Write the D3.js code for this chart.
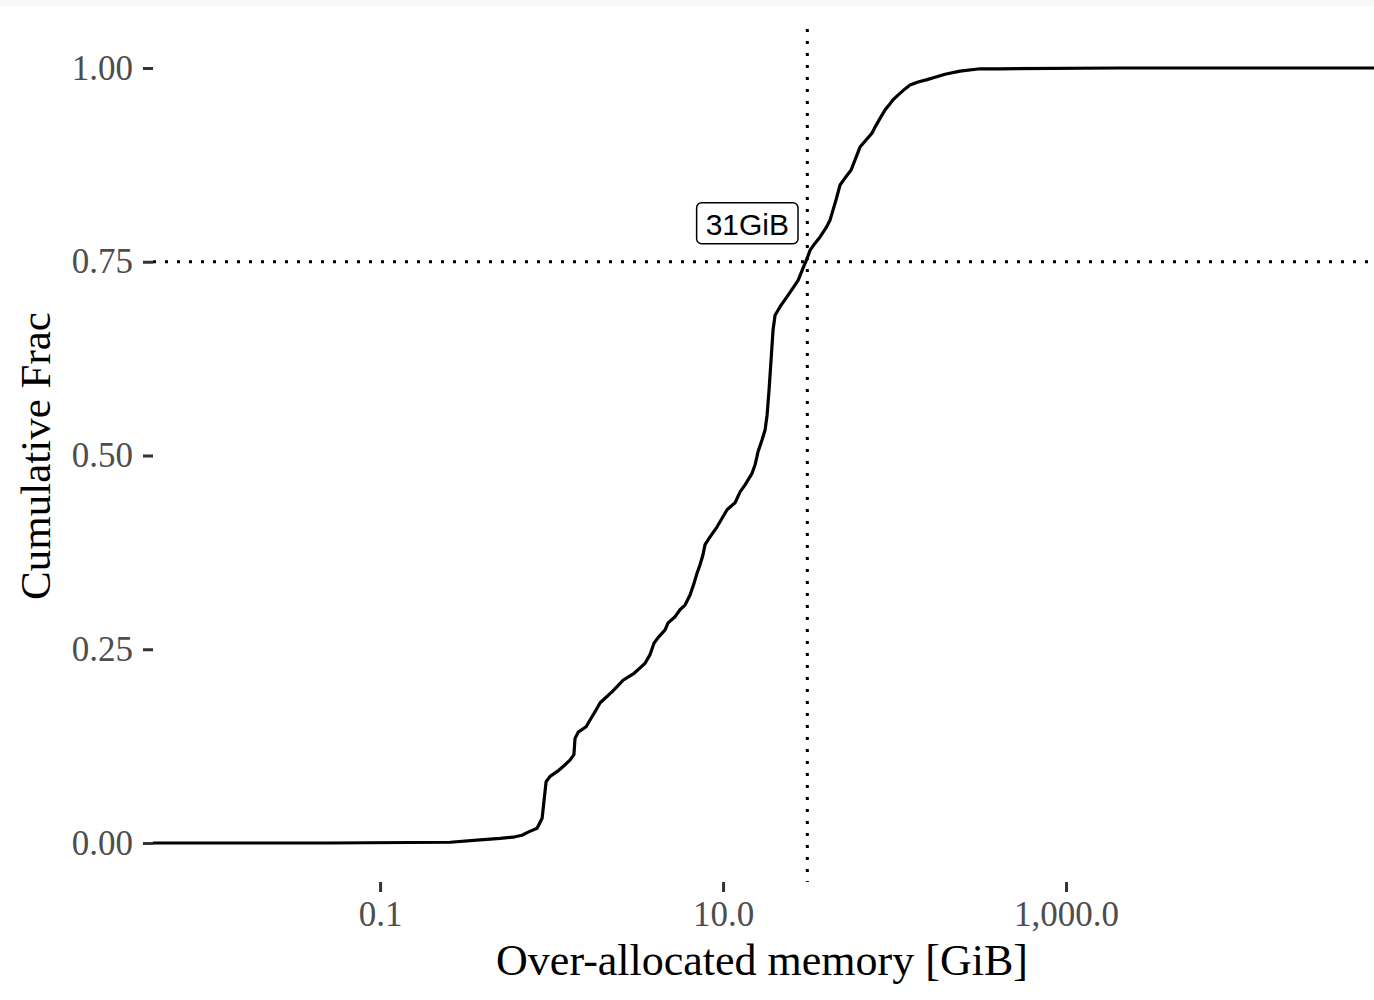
<!DOCTYPE html>
<html>
<head>
<meta charset="utf-8">
<script src="https://cdn.jsdelivr.net/npm/d3@7"></script>
<style>
  body { margin: 0; background: #fff; }
  svg { display: block; }
</style>
</head>
<body>
<div id="chart"></div>
<script>
// ECDF of over-allocated memory
var memGiB = [0.05, 0.256, 0.383, 0.501, 0.612, 0.673, 0.730, 0.823, 0.881, 0.904, 0.929, 0.980,
  1.09, 1.20, 1.28, 1.35, 1.37, 1.43, 1.59, 1.68, 1.82, 1.92, 2.08, 2.25, 2.44, 2.61, 2.79,
  3.03, 3.28, 3.51, 3.75, 3.96, 4.18, 4.59, 4.78, 5.25, 5.61, 6.00, 6.42, 6.77, 7.05, 7.34,
  7.64, 7.85, 8.40, 9.23, 9.87, 10.55, 11.75, 12.57, 13.43, 14.76, 15.37, 16.0, 16.87, 17.58,
  18.06, 18.55, 19.05, 19.57, 20.10, 21.5, 23.3, 25.2, 27.4, 29.3, 30.5, 32.2, 34.4, 36.8,
  39.9, 42.1, 43.8, 45.6, 48.1, 51.4, 55.7, 60.4, 62.9, 68.2, 73.9, 78.0, 82.3, 88.1, 94.2,
  98.0, 104.8, 115.1, 123.1, 137.1, 154.8, 172.2, 196.9, 241.0, 315.2, 412, 2000];
var cumFrac = [0, 0.001, 0.004, 0.006, 0.008, 0.010, 0.014, 0.019, 0.032, 0.055, 0.079, 0.086,
  0.093, 0.101, 0.107, 0.114, 0.135, 0.143, 0.150, 0.159, 0.172, 0.181, 0.188, 0.195, 0.203, 0.210, 0.214,
  0.219, 0.226, 0.232, 0.243, 0.258, 0.265, 0.275, 0.284, 0.292, 0.301, 0.307, 0.320, 0.335, 0.348, 0.359,
  0.372, 0.385, 0.395, 0.408, 0.419, 0.430, 0.439, 0.453, 0.462, 0.477, 0.488, 0.505, 0.520, 0.533,
  0.552, 0.585, 0.623, 0.662, 0.681, 0.692, 0.703, 0.714, 0.726, 0.742, 0.751, 0.765, 0.774, 0.782,
  0.794, 0.804, 0.817, 0.830, 0.849, 0.858, 0.868, 0.888, 0.898, 0.907, 0.916, 0.926, 0.935, 0.946, 0.954,
  0.959, 0.965, 0.973, 0.978, 0.982, 0.985, 0.988, 0.992, 0.996, 0.999, 0.999, 1.0];

var xTicks = [0.1, 10, 1000];
var yTicks = [0, 0.25, 0.5, 0.75, 1];
var quantileFrac = 0.75;
var quantileGiB = 31;
var quantileLabel = "31GiB";
var xDomain = [0.00474, 62500];

var width = 1374, height = 1000;
var serif = "'Liberation Serif', 'Times New Roman', serif";

var svg = d3.select("#chart").append("svg")
    .attr("width", width)
    .attr("height", height);

// faint strip at the very top
svg.append("rect")
    .attr("width", width).attr("height", 6)
    .attr("fill", "#f7f8fa");

var x = d3.scaleLog().domain(xDomain).range([153, 1374]);
var y = d3.scaleLinear().domain([0, 1]).range([843, 68]);
var panelTop = 29, panelBottom = 882;

// axes
var yAxis = d3.axisLeft(y)
    .tickValues(yTicks)
    .tickFormat(d3.format(".2f"))
    .tickSize(10)
    .tickPadding(10);

var xAxis = d3.axisBottom(x)
    .tickValues(xTicks)
    .tickFormat(d3.format(",.1f"))
    .tickSize(10)
    .tickPadding(9);

var gy = svg.append("g")
    .attr("transform", "translate(153,0)")
    .call(yAxis);

var gx = svg.append("g")
    .attr("transform", "translate(0," + panelBottom + ")")
    .call(xAxis);

[gx, gy].forEach(function(g) {
  g.select(".domain").remove();
  g.selectAll(".tick line").attr("stroke", "#333").attr("stroke-width", 3);
  g.selectAll(".tick text")
      .attr("fill", "#4d4d4d")
      .style("font-family", serif)
      .style("font-size", "35px");
});

// reference lines
svg.append("line")
    .attr("x1", x(xDomain[0])).attr("x2", x(xDomain[1]))
    .attr("y1", y(quantileFrac)).attr("y2", y(quantileFrac))
    .attr("stroke", "#000")
    .attr("stroke-width", 3)
    .attr("stroke-dasharray", "3,9");

svg.append("line")
    .attr("x1", x(quantileGiB)).attr("x2", x(quantileGiB))
    .attr("y1", panelTop).attr("y2", panelBottom)
    .attr("stroke", "#000")
    .attr("stroke-width", 3)
    .attr("stroke-dasharray", "3,9");

// ecdf curve, padded to the panel edges
var pts = memGiB.map(function(v, i) { return [v, cumFrac[i]]; });
pts.unshift([xDomain[0], 0]);
pts.push([xDomain[1], 1]);

var line = d3.line()
    .x(function(d) { return x(d[0]); })
    .y(function(d) { return y(d[1]); });

svg.append("path")
    .datum(pts)
    .attr("d", line)
    .attr("fill", "none")
    .attr("stroke", "#000")
    .attr("stroke-width", 3.2)
    .attr("stroke-linejoin", "round");

// label
var lab = svg.append("g");
var labText = lab.append("text")
    .attr("x", x(quantileGiB) - 60)
    .attr("y", y(quantileFrac) - 27)
    .attr("text-anchor", "middle")
    .style("font-family", "'Liberation Sans', Arial, sans-serif")
    .style("font-size", "30px")
    .attr("fill", "#000")
    .text(quantileLabel);
var bb = labText.node().getBBox();
lab.insert("rect", "text")
    .attr("x", bb.x - 9)
    .attr("y", y(quantileFrac) - 59)
    .attr("width", bb.width + 18)
    .attr("height", 41)
    .attr("rx", 5)
    .attr("fill", "#fff")
    .attr("stroke", "#000")
    .attr("stroke-width", 1.5);

// axis titles
svg.append("text")
    .attr("x", 762)
    .attr("y", 975)
    .attr("text-anchor", "middle")
    .style("font-family", serif)
    .style("font-size", "44px")
    .attr("fill", "#000")
    .text("Over-allocated memory [GiB]");

svg.append("text")
    .attr("transform", "translate(50,456) rotate(-90)")
    .attr("text-anchor", "middle")
    .style("font-family", serif)
    .style("font-size", "43px")
    .attr("fill", "#000")
    .text("Cumulative Frac");
</script>
</body>
</html>
